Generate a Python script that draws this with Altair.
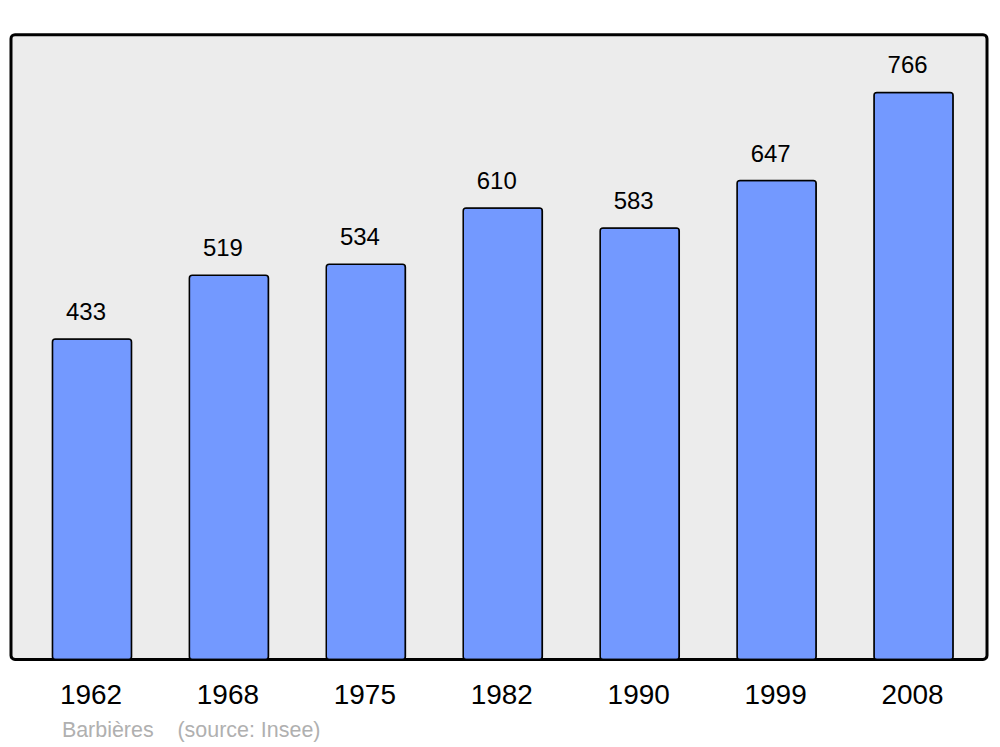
import altair as alt
import pandas as pd

years = ["1962", "1968", "1975", "1982", "1990", "1999", "2008"]
population = [433, 519, 534, 610, 583, 647, 766]
footnote = "Barbières\u00a0\u00a0\u00a0\u00a0(source: Insee)"

df = pd.DataFrame({"year": years, "pop": population})

x = alt.X("year:N", sort=years, title=None,
          scale=alt.Scale(paddingInner=0.422, paddingOuter=0.275, align=0.55, round=False),
          axis=alt.Axis(labelAngle=0, ticks=False, domain=False, labelPadding=22,
                        labelFontSize=28, labelFont="Liberation Sans", labelColor="black",
                        labelOffset=-1))
y = alt.Y("pop:Q", title=None, scale=alt.Scale(domain=[0, 844], nice=False),
          axis=None)

bars = alt.Chart(df).mark_bar(color="#7399ff", stroke="black", strokeWidth=1.5,
                              cornerRadius=3).encode(x=x, y=y)
labels = alt.Chart(df).mark_text(font="Liberation Sans", fontSize=24, color="black",
                                 baseline="alphabetic", dy=-19, dx=-6).encode(
    x=x, y=y, text="pop:Q")

chart = (bars + labels).properties(
    width=978, height=626,
    autosize=alt.AutoSizeParams(type="none"),
    padding={"left": 3, "top": 26, "right": 5, "bottom": 100},
    title=alt.TitleParams(text=footnote, orient="bottom", anchor="start", dx=51,
                          offset=11, fontSize=21.5, font="Liberation Sans",
                          fontWeight="normal", color="#b0b0b0"),
).configure_view(fill="#ececec", stroke="black", strokeWidth=3, cornerRadius=4)

chart.save("out.html", embed_options={"renderer": "svg", "actions": False})
